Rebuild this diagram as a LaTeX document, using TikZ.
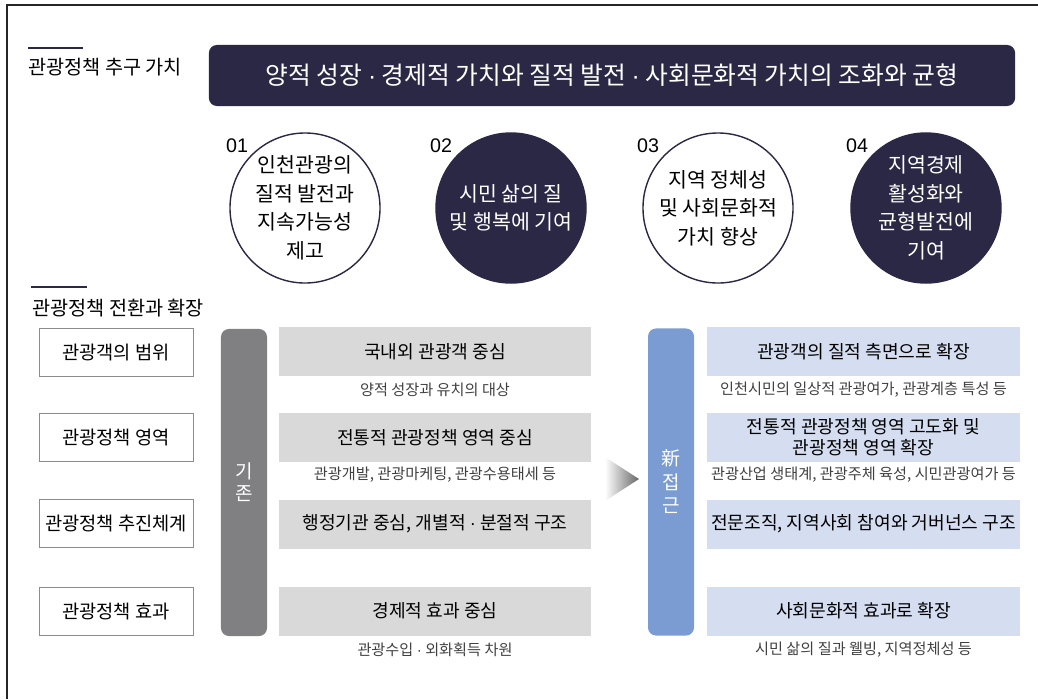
\documentclass[tikz,border=0pt]{standalone}
\usepackage{fontspec}
\setmainfont{Noto Sans CJK KR}
\newfontfamily\numfont{Liberation Sans}
\usepackage{xcolor}
\usepackage{tikz}
\definecolor{navy}{RGB}{43,40,70}
\definecolor{oldgray}{RGB}{128,128,130}
\definecolor{oldfill}{RGB}{217,217,217}
\definecolor{newblue}{RGB}{123,156,210}
\definecolor{newfill}{RGB}{213,221,240}
\newcommand{\ptdot}{{\numfont ·}}

\begin{document}
\begin{tikzpicture}[x=0.025cm, y=-0.025cm,
        title/.style={anchor=west, inner sep=0pt, font=\fontsize{14}{16}\selectfont},
        banner/.style={rectangle, rounded corners=0.2cm, fill=navy, text=white, minimum width=20.15cm, minimum height=1.525cm, font=\fontsize{17.6}{20}\selectfont},
        valw/.style={circle, draw=navy, line width=1pt, fill=white, minimum size=3.75cm, inner sep=0pt, align=center, font=\fontsize{14.6}{20.3}\selectfont},
        vald/.style={valw, fill=navy, text=white},
        num/.style={inner sep=0pt, font=\numfont\fontsize{14}{16}\selectfont},
        cat/.style={rectangle, draw=black!45, minimum width=3.85cm, minimum height=1.2cm, font=\fontsize{13.3}{15}\selectfont},
        bar/.style={rectangle, rounded corners=0.2cm, minimum width=1.15cm, minimum height=7.675cm, text=white, align=center},
        oldbox/.style={rectangle, fill=oldfill, minimum width=7.8cm, minimum height=1.225cm, inner xsep=0pt, align=center, font=\fontsize{12.9}{15}\selectfont},
        newbox/.style={oldbox, fill=newfill},
        sub/.style={text=black!75, font=\fontsize{10.8}{12}\selectfont}
    ]
    \useasboundingbox (0,0) rectangle (1038,699);

    % frame
    \draw[line width=1.2pt, black!85] (7,699) -- (7,5) -- (1038,5);

    % Values
    \draw[navy, line width=2pt] (28,48) -- (83,48);
    \node[title] (ttl1) at (28,67) {관광정책 추구 가치};
    \node[banner] (goal) at (612,75.5) {양적 성장 \ptdot{} 경제적 가치와 질적 발전 \ptdot{} 사회문화적 가치의 조화와 균형};

    \node[valw] (v1) at (305,208) {인천관광의\\질적 발전과\\지속가능성\\제고};
    \node[vald] (v2) at (511,208) {시민 삶의 질\\및 행복에 기여};
    \node[valw] (v3) at (718,208) {지역 정체성\\및 사회문화적\\가치 향상};
    \node[vald] (v4) at (926,208) {지역경제\\활성화와\\균형발전에\\기여};
    \node[num] (n1) at (237,146) {01};
    \node[num] (n2) at (441,146) {02};
    \node[num] (n3) at (648,146) {03};
    \node[num] (n4) at (857,146) {04};

    % Shift and expansion
    \draw[navy, line width=2pt] (31,287) -- (87,287);
    \node[title] (ttl2) at (32,308) {관광정책 전환과 확장};

    \node[cat] (cat1) at (116,352) {관광객의 범위};
    \node[cat] (cat2) at (116,437.5) {관광정책 영역};
    \node[cat] (cat3) at (116,523.5) {관광정책 추진체계};
    \node[cat] (cat4) at (116,611) {관광정책 효과};

    \node[bar, fill=oldgray, font=\fontsize{13.5}{15.6}\selectfont] (oldbar) at (244,482.5) {기\\존};
    \node[oldbox] (old1) at (435,351.5) {국내외 관광객 중심};
    \node[sub] (olds1) at (435,389.5) {양적 성장과 유치의 대상};
    \node[oldbox] (old2) at (435,437.5) {전통적 관광정책 영역 중심};
    \node[sub] (olds2) at (435,475) {관광개발, 관광마케팅, 관광수용태세 등};
    \node[oldbox] (old3) at (435,524) {행정기관 중심, 개별적 \ptdot{} 분절적 구조};
    \node[oldbox] (old4) at (435,611) {경제적 효과 중심};
    \node[sub] (olds4) at (435,650) {관광수입 \ptdot{} 외화획득 차원};

    % arrow
    \shade[left color=white, right color=black!60] (605,457) -- (639,479) -- (605,501) -- cycle;

    \node[bar, fill=newblue, font=\fontsize{13.5}{16.7}\selectfont] (newbar) at (671,482) {新\\접\\근};
    \node[newbox] (new1) at (863.5,351.5) {관광객의 질적 측면으로 확장};
    \node[sub] (news1) at (863.5,390) {인천시민의 일상적 관광여가, 관광계층 특성 등};
    \node[newbox] (new2) at (863.5,437.5) {전통적 관광정책 영역 고도화 및\\관광정책 영역 확장};
    \node[sub] (news2) at (863.5,475) {관광산업 생태계, 관광주체 육성, 시민관광여가 등};
    \node[newbox] (new3) at (863.5,524) {전문조직, 지역사회 참여와 거버넌스 구조};
    \node[newbox] (new4) at (863.5,611) {사회문화적 효과로 확장};
    \node[sub] (news4) at (863.5,650) {시민 삶의 질과 웰빙, 지역정체성 등};

\end{tikzpicture}
\end{document}
